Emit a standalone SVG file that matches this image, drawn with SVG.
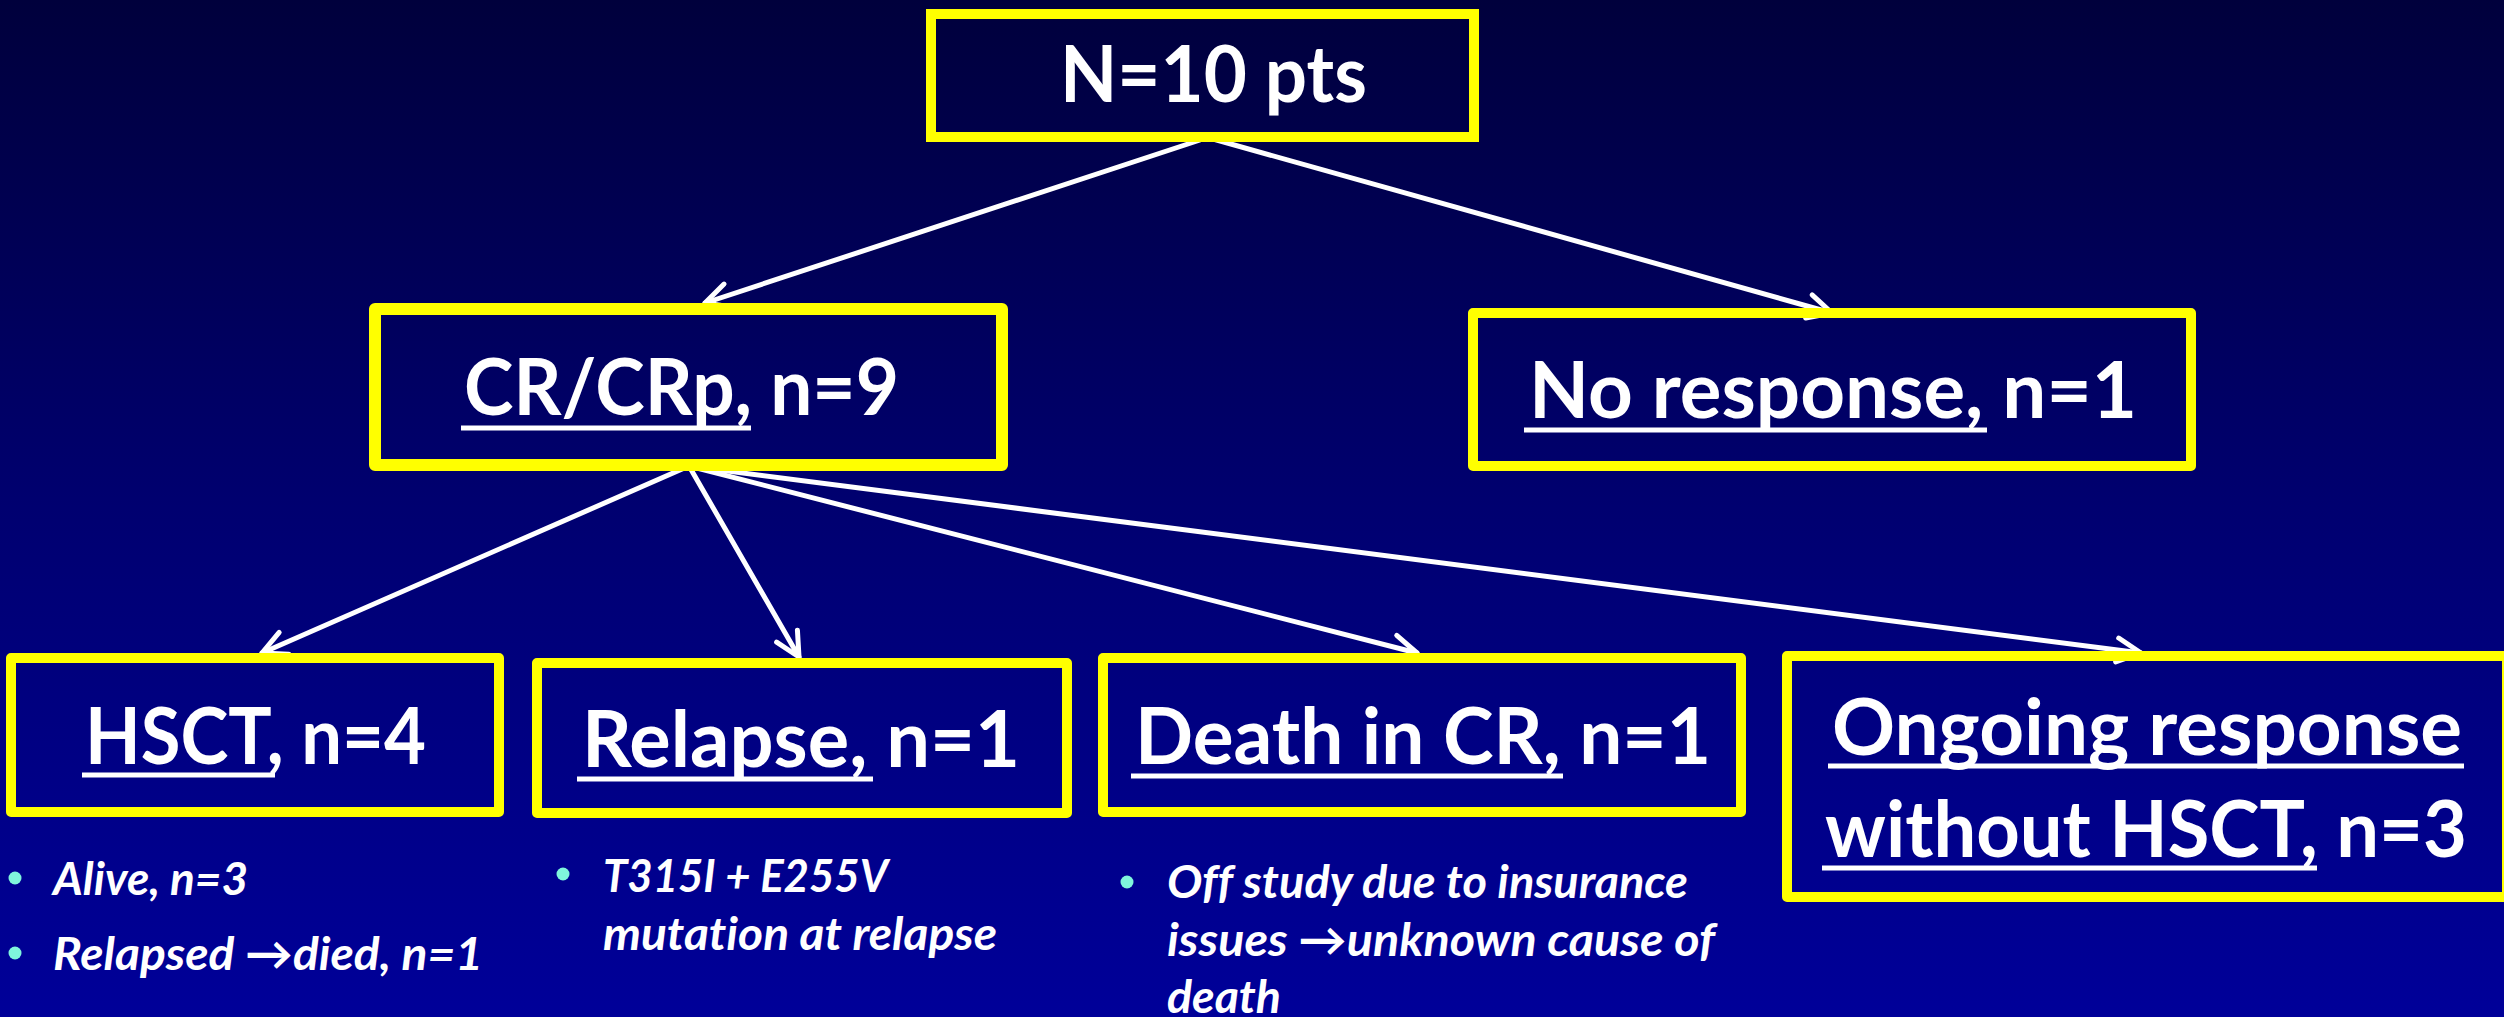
<svg xmlns="http://www.w3.org/2000/svg" width="2504" height="1017" viewBox="0 0 2504 1017">
  <defs>
    <linearGradient id="bg" x1="0" y1="0" x2="0" y2="1">
      <stop offset="0" stop-color="#00003c"/>
      <stop offset="0.5" stop-color="#000070"/>
      <stop offset="1" stop-color="#000099"/>
    </linearGradient>
    <marker id="arr" markerUnits="userSpaceOnUse" markerWidth="40" markerHeight="40" viewBox="-30 -20 40 40" refX="0" refY="0" orient="auto">
      <path d="M-24,-12 L0,0 L-24,12" fill="none" stroke="#ffffff" stroke-width="5" stroke-linecap="round" stroke-linejoin="round"/>
    </marker>
    <style>
      .box { fill: none; stroke: #ffff00; stroke-width: 10; stroke-linejoin: round; }
      .lbl { font-family: Lato, "Open Sans", "Liberation Sans", sans-serif; font-weight: bold; font-size: 78px; fill: #ffffff; font-variant-ligatures: none; }
      .ul { fill: #ffffff; }
      .bt { font-family: Lato, "Open Sans", "Liberation Sans", sans-serif; font-weight: bold; font-style: italic; font-size: 46px; fill: #ffffff; font-variant-ligatures: none; }
      .dot { fill: #7ff5dc; }
      .con { stroke: #ffffff; stroke-width: 5; fill: none; stroke-linecap: round; marker-end: url(#arr); }
    </style>
  </defs>
  <rect x="0" y="0" width="2504" height="1017" fill="url(#bg)"/>

  <g id="connectors">
    <line class="con" x1="1200" y1="140" x2="705" y2="303"/>
    <line class="con" x1="1206" y1="137" x2="1832" y2="313"/>
    <line class="con" x1="689" y1="466" x2="262" y2="653"/>
    <line class="con" x1="689" y1="466" x2="799" y2="657"/>
    <line class="con" x1="689" y1="466" x2="1417" y2="653"/>
    <line class="con" x1="689" y1="466" x2="2141" y2="653"/>
  </g>

  <g id="node-total">
    <rect class="box" x="931" y="14" width="543" height="123" style="stroke-linejoin:miter"/>
    <text class="lbl" x="1060" y="102" textLength="307" lengthAdjust="spacingAndGlyphs">N=10 pts</text>
  </g>

  <g id="node-cr">
    <rect class="box" x="375" y="309" width="627" height="156" style="stroke-width:12"/>
    <text class="lbl" x="464" y="415" textLength="435" lengthAdjust="spacingAndGlyphs">CR/CRp, n=9</text>
    <rect class="ul" x="461" y="425.5" width="290" height="5"/>
  </g>

  <g id="node-noresponse">
    <rect class="box" x="1473" y="313" width="718" height="153"/>
    <text class="lbl" x="1529" y="418" textLength="608" lengthAdjust="spacingAndGlyphs">No response, n=1</text>
    <rect class="ul" x="1524" y="427.5" width="463" height="5"/>
  </g>

  <g id="node-hsct">
    <rect class="box" x="11" y="658" width="488" height="154"/>
    <text class="lbl" x="85" y="764" textLength="341" lengthAdjust="spacingAndGlyphs">HSCT, n=4</text>
    <rect class="ul" x="82" y="772.5" width="193" height="5"/>
    <circle class="dot" cx="15" cy="878" r="6.5"/>
    <text class="bt" x="53" y="895" textLength="195" lengthAdjust="spacingAndGlyphs">Alive, n=3</text>
    <circle class="dot" cx="15" cy="953" r="6.5"/>
    <text class="bt" x="53" y="970" textLength="430" lengthAdjust="spacingAndGlyphs">Relapsed →died, n=1</text>
  </g>

  <g id="node-relapse">
    <rect class="box" x="537" y="663" width="530" height="150"/>
    <text class="lbl" x="582" y="767" textLength="438" lengthAdjust="spacingAndGlyphs">Relapse, n=1</text>
    <rect class="ul" x="577" y="776.5" width="296" height="5"/>
    <circle class="dot" cx="563" cy="874" r="6.5"/>
    <text class="bt" x="603" y="892" textLength="285" lengthAdjust="spacingAndGlyphs">T315I + E255V</text>
    <text class="bt" x="603" y="950" textLength="394" lengthAdjust="spacingAndGlyphs">mutation at relapse</text>
  </g>

  <g id="node-death">
    <rect class="box" x="1103" y="658" width="638" height="154"/>
    <text class="lbl" x="1135" y="764" textLength="576" lengthAdjust="spacingAndGlyphs">Death in CR, n=1</text>
    <rect class="ul" x="1131" y="773.5" width="432" height="5"/>
    <circle class="dot" cx="1127" cy="882" r="6.5"/>
    <text class="bt" x="1167" y="898" textLength="521" lengthAdjust="spacingAndGlyphs">Off study due to insurance</text>
    <text class="bt" x="1167" y="956" textLength="548" lengthAdjust="spacingAndGlyphs">issues →unknown cause of</text>
    <text class="bt" x="1167" y="1013" textLength="114" lengthAdjust="spacingAndGlyphs">death</text>
  </g>

  <g id="node-ongoing">
    <rect class="box" x="1787" y="656" width="720" height="241"/>
    <text class="lbl" x="1832" y="755" textLength="630" lengthAdjust="spacingAndGlyphs">Ongoing response</text>
    <rect class="ul" x="1828" y="763.5" width="636" height="5"/>
    <text class="lbl" x="1825" y="857" textLength="642" lengthAdjust="spacingAndGlyphs">without HSCT, n=3</text>
    <rect class="ul" x="1822" y="865.5" width="495" height="5"/>
  </g>
</svg>
